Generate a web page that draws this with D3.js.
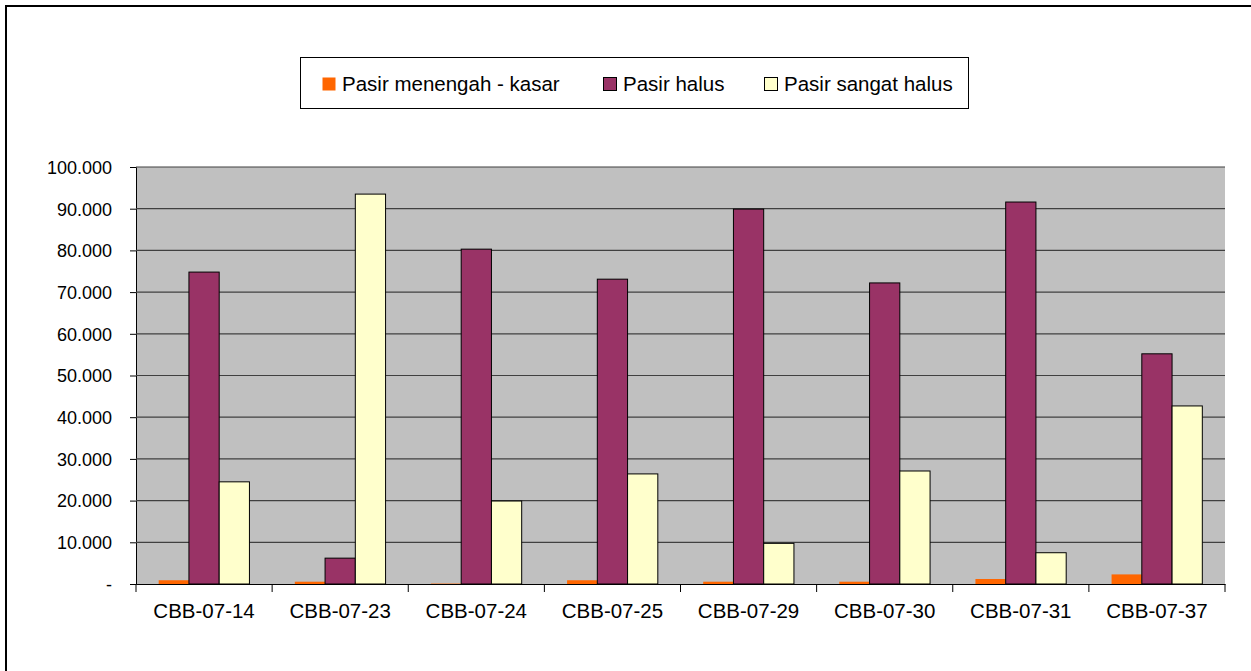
<!DOCTYPE html>
<html><head><meta charset="utf-8">
<script src="https://cdn.jsdelivr.net/npm/d3@7"></script>
<style>body{margin:0;background:#fff}svg{display:block}</style>
</head><body>
<script>
const categories = ["CBB-07-14","CBB-07-23","CBB-07-24","CBB-07-25","CBB-07-29","CBB-07-30","CBB-07-31","CBB-07-37"];
const seriesNames = ["Pasir menengah - kasar","Pasir halus","Pasir sangat halus"];
const menengahKasar = [0.9, 0.55, 0.1, 0.9, 0.55, 0.55, 1.2, 2.3];
const halus = [74.8, 6.2, 80.3, 73.1, 89.9, 72.2, 91.6, 55.2];
const sangatHalus = [24.5, 93.5, 19.9, 26.4, 9.75, 27.1, 7.5, 42.7];
const colors = ["#ff6600","#993366","#ffffcc"];
const yTicks = [0,10,20,30,40,50,60,70,80,90,100];

const W = 1251, H = 671;
const FONT = "Arial, 'Liberation Sans', sans-serif";
const svg = d3.select("body").append("svg").attr("width", W).attr("height", H);
svg.append("rect").attr("x",6).attr("y",6).attr("width",1260).attr("height",700)
  .attr("fill","#fff").attr("stroke","#000").attr("stroke-width",2);

const L = 136, R = 1225, T = 167, B = 584;
const x = d3.scaleBand().domain(categories).range([L, R]);
const y = d3.scaleLinear().domain([0,100]).range([B, T]);
const groupW = x.bandwidth() * 3 / 4.5;
const xs = d3.scaleBand().domain([0,1,2]).range([(x.bandwidth()-groupW)/2, (x.bandwidth()+groupW)/2]);

svg.append("rect").attr("x",L).attr("y",T).attr("width",R-L).attr("height",B-T).attr("fill","#c0c0c0");

const fmt = v => v === 0 ? "-" : d3.format(",")(v*1000).replace(/,/g,".");

const yAxis = d3.axisLeft(y).tickValues(yTicks).tickSize(6).tickFormat(fmt);
const gy = svg.append("g").attr("transform",`translate(${L},0)`).call(yAxis);
gy.select(".domain").attr("stroke","#000");
gy.selectAll(".tick line").attr("stroke","#000");
gy.selectAll(".tick text").attr("font-family",FONT).attr("font-size",18).attr("fill","#000").attr("x",-24).attr("dy","0.35em");

// gridlines
svg.append("g").selectAll("line").data(yTicks.filter(d=>d>0)).join("line")
  .attr("x1",L).attr("x2",R).attr("y1",d=>y(d)).attr("y2",d=>y(d))
  .attr("stroke","#404040").attr("stroke-width",1.2);

const data = [menengahKasar, halus, sangatHalus];
const g = svg.append("g");
data.forEach((arr, si) => {
  g.selectAll(null).data(arr).join("rect")
    .attr("x",(d,i)=>x(categories[i]) + xs(si))
    .attr("y",d=>y(d))
    .attr("width",xs.bandwidth())
    .attr("height",d=>B - y(d))
    .attr("fill",colors[si])
    .attr("stroke", si===0 ? "none" : "#000")
    .attr("stroke-width",1);
});

// x axis
const xAxis = d3.axisBottom(x).tickSize(0).tickPadding(19);
const gx = svg.append("g").attr("transform",`translate(0,${B})`).call(xAxis);
gx.select(".domain").attr("stroke","#000").attr("stroke-width",1.2);
gx.selectAll(".tick text").attr("font-family",FONT).attr("font-size",20.5).attr("fill","#000");
gx.selectAll(".sep").data(d3.range(categories.length+1)).join("line")
  .attr("x1",i=>L + i*x.step()).attr("x2",i=>L + i*x.step()).attr("y1",0).attr("y2",8).attr("stroke","#000");

// legend
const lg = svg.append("g");
lg.append("rect").attr("x",300.5).attr("y",57.5).attr("width",668).attr("height",51).attr("fill","#fff").attr("stroke","#000");
const lx = [322, 603, 764];
seriesNames.forEach((n,i)=>{
  lg.append("rect").attr("x",lx[i]+0.5).attr("y",77.5).attr("width",13).attr("height",13)
    .attr("fill",colors[i]).attr("stroke", i===0 ? "none" : "#000");
  lg.append("text").attr("x",lx[i]+20).attr("y",91).text(n)
    .attr("font-family",FONT).attr("font-size",20.5).attr("fill","#000");
});
</script>
</body></html>
